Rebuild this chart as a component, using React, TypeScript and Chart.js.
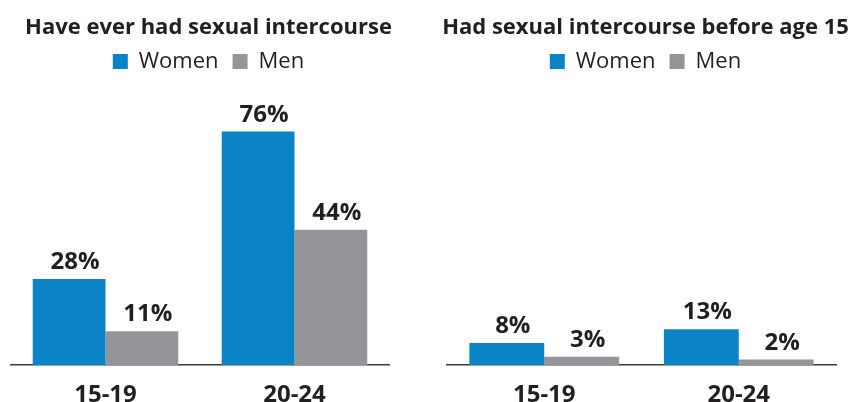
import React, { useEffect, useRef } from "react";
import { Chart, registerables } from "chart.js";

Chart.register(...registerables);

const categories = ["15-19", "20-24"];
const seriesNames = ["Women", "Men"];
const everWomen = [28, 76];
const everMen = [11, 44];
const before15Women = [8, 13];
const before15Men = [3, 2];
const titles = ["Have ever had sexual intercourse", "Had sexual intercourse before age 15"];

const BLUE = "#0a84c6";
const GRAY = "#939598";
const TEXT = "#231f20";
const FONT = "'Open Sans', 'DejaVu Sans', sans-serif";

const labelPlugin = {
  id: "valueLabels",
  afterDatasetsDraw(chart: any) {
    const ctx = chart.ctx;
    ctx.save();
    ctx.font = `bold 24px ${FONT}`;
    ctx.fillStyle = TEXT;
    ctx.textAlign = "center";
    ctx.textBaseline = "alphabetic";
    chart.data.datasets.forEach((ds: any, i: number) => {
      const meta = chart.getDatasetMeta(i);
      meta.data.forEach((el: any, j: number) => {
        ctx.fillText(ds.data[j] + "%", el.x + 6, el.y - 10);
      });
    });
    ctx.restore();
  },
};

function BarPanel(props: { title: string; women: number[]; men: number[]; max: number; padLeft: number; padRight: number }) {
  const ref = useRef<HTMLCanvasElement | null>(null);
  useEffect(() => {
    if (!ref.current) return;
    const chart = new Chart(ref.current, {
      type: "bar",
      data: {
        labels: categories,
        datasets: [
          { label: seriesNames[0], data: props.women, backgroundColor: BLUE, categoryPercentage: 0.77, barPercentage: 1, yAxisID: "y" },
          { label: seriesNames[1], data: props.men, backgroundColor: GRAY, categoryPercentage: 0.77, barPercentage: 1, yAxisID: "y" },
        ],
      },
      options: {
        animation: false,
        responsive: false,
        events: [],
        layout: { padding: { left: 0, right: 0, top: 15, bottom: 0 } },
        plugins: {
          title: {
            display: true,
            text: props.title,
            color: TEXT,
            font: { family: FONT, size: 22, weight: "bold" },
            padding: { top: 0, bottom: -5 },
          },
          legend: {
            display: true,
            labels: {
              boxWidth: 15,
              boxHeight: 15,
              padding: 14,
              color: TEXT,
              font: { family: FONT, size: 22 },
            },
          },
          tooltip: { enabled: false },
        },
        scales: {
          x: {
            grid: { display: false, drawTicks: false },
            border: { display: true, color: "#3a3a3a", width: 1.5 },
            ticks: { color: TEXT, font: { family: FONT, size: 24, weight: "bold" }, padding: 16 },
            afterFit: (s: any) => { s.height = 37; },
          },
          y: {
            display: true,
            position: "left",
            min: 0,
            max: props.max,
            grid: { display: false, drawTicks: false },
            border: { display: false },
            ticks: { display: false },
            afterFit: (s: any) => { s.width = props.padLeft; },
          },
          yR: {
            display: true,
            position: "right",
            grid: { display: false, drawTicks: false },
            border: { display: false },
            ticks: { display: false },
            afterFit: (s: any) => { s.width = props.padRight; },
          },
        },
      },
      plugins: [labelPlugin],
    } as any);
    return () => chart.destroy();
  }, []);
  return <canvas ref={ref} width={417} height={402} style={{ width: 417, height: 402, display: "block" }} />;
}

export default function App() {
  return (
    <div style={{ position: "absolute", left: 0, top: 0, width: 854, height: 402, background: "#fff" }}>
      <div style={{ position: "absolute", left: 0, top: 0 }}>
        <BarPanel title={titles[0]} women={everWomen} men={everMen} max={92} padLeft={11} padRight={28} />
      </div>
      <div style={{ position: "absolute", left: 437, top: 0 }}>
        <BarPanel title={titles[1]} women={before15Women} men={before15Men} max={103} padLeft={10} padRight={18} />
      </div>
    </div>
  );
}
